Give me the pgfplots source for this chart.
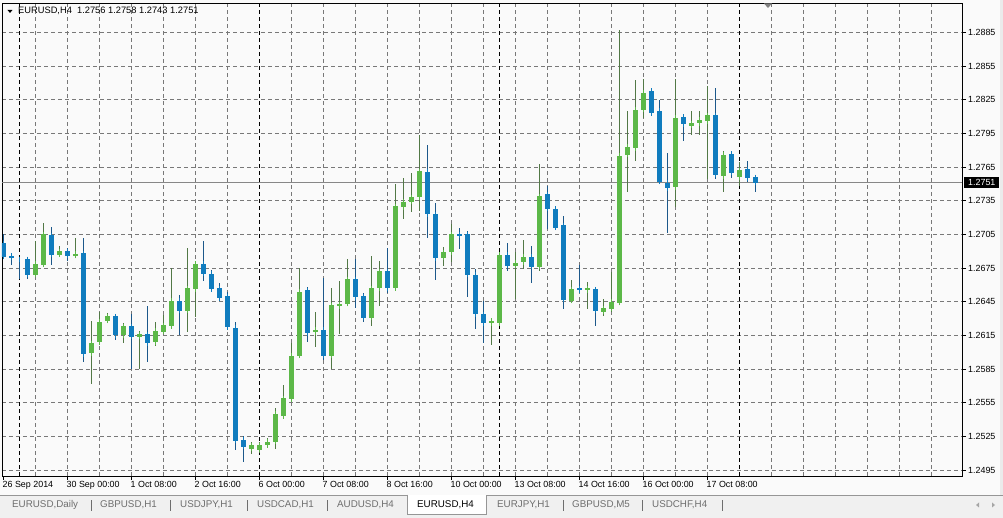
\documentclass[border=0pt]{standalone}
\usepackage{fontspec}
\setmainfont{Liberation Sans}
\usepackage{pgfplots}
\pgfplotsset{compat=1.18}
\usepackage{pgfplotstable}

\definecolor{bullc}{RGB}{92,184,72}
\definecolor{bearc}{RGB}{16,124,190}
\definecolor{bullw}{RGB}{82,120,70}
\definecolor{bearw}{RGB}{28,88,138}
\definecolor{gridc}{RGB}{120,120,120}
\definecolor{bgc}{RGB}{250,250,250}
\definecolor{tabbg}{RGB}{240,240,240}
\definecolor{tabline}{RGB}{150,150,150}
\definecolor{tabtext}{RGB}{110,110,110}
\definecolor{bidc}{RGB}{135,135,135}

\newcommand\lbl{\fontsize{8.9}{10}\selectfont}
\newcommand\hdr{\fontsize{9.3}{10}\selectfont}
\newcommand\tabf{\fontsize{9.8}{11}\selectfont}

\pgfplotstableread{
k o h l c
4 1.2669 1.2699 1.2667 1.2679
5 1.2678 1.2715 1.2677 1.2705
7 1.2687 1.2695 1.2685 1.2690
9 1.2686 1.2702 1.2685 1.2688
11 1.2599 1.2628 1.2572 1.2608
12 1.2609 1.2636 1.2608 1.2627
13 1.2628 1.2635 1.2627 1.2632
15 1.2615 1.2626 1.2608 1.2623
17 1.2614 1.2619 1.2585 1.2616
19 1.2609 1.2627 1.2606 1.2619
20 1.2618 1.2633 1.2617 1.2624
21 1.2623 1.2675 1.2622 1.2646
23 1.2637 1.2693 1.2618 1.2657
24 1.2656 1.2681 1.2631 1.2679
31 1.2514 1.2520 1.2509 1.2517
32 1.2513 1.2520 1.2510 1.2517
33 1.2517 1.2524 1.2515 1.2520
34 1.2520 1.2550 1.2514 1.2545
35 1.2543 1.2571 1.2542 1.2559
36 1.2558 1.2608 1.2557 1.2597
37 1.2597 1.2675 1.2596 1.2654
39 1.2618 1.2636 1.2605 1.2620
41 1.2597 1.2657 1.2585 1.2642
42 1.2641 1.2663 1.2616 1.2643
43 1.2643 1.2683 1.2642 1.2665
46 1.2631 1.2686 1.2623 1.2657
47 1.2657 1.2681 1.2641 1.2672
49 1.2657 1.2750 1.2656 1.2730
50 1.2729 1.2755 1.2719 1.2734
51 1.2734 1.2760 1.2725 1.2738
52 1.2738 1.2794 1.2726 1.2761
55 1.2684 1.2694 1.2677 1.2689
56 1.2689 1.2714 1.2680 1.2705
61 1.2626 1.2630 1.2606 1.2628
62 1.2626 1.2688 1.2625 1.2687
64 1.2677 1.2689 1.2647 1.2680
65 1.2680 1.2700 1.2674 1.2685
67 1.2676 1.2768 1.2672 1.2739
71 1.2646 1.2664 1.2645 1.2656
73 1.2655 1.2663 1.2639 1.2657
75 1.2636 1.2647 1.2632 1.2639
76 1.2639 1.2671 1.2636 1.2645
77 1.2644 1.2887 1.2642 1.2775
78 1.2776 1.2815 1.2743 1.2783
79 1.2782 1.2843 1.2770 1.2816
80 1.2816 1.2843 1.2809 1.2831
84 1.2747 1.2843 1.2729 1.2809
86 1.2802 1.2815 1.2794 1.2804
87 1.2804 1.2815 1.2794 1.2807
88 1.2806 1.2837 1.2754 1.2811
90 1.2757 1.2779 1.2743 1.2776
92 1.2756 1.2769 1.2748 1.2762
}\bulltab

\pgfplotstableread{
k o h l c
0 1.2697 1.2705 1.2683 1.2685
1 1.2686 1.2687 1.2678 1.2684
2 1.2683 1.2685 1.2665 1.2683
3 1.2683 1.2685 1.2665 1.2669
6 1.2704 1.2712 1.2678 1.2687
8 1.2690 1.2693 1.2681 1.2686
10 1.2688 1.2702 1.2591 1.2598
14 1.2632 1.2634 1.2611 1.2615
16 1.2623 1.2634 1.2585 1.2614
18 1.2616 1.2641 1.2591 1.2608
22 1.2646 1.2651 1.2615 1.2637
25 1.2679 1.2699 1.2663 1.2670
26 1.2670 1.2673 1.2654 1.2656
27 1.2657 1.2662 1.2647 1.2648
28 1.2650 1.2654 1.2621 1.2622
29 1.2622 1.2627 1.2513 1.2521
30 1.2522 1.2525 1.2502 1.2516
38 1.2655 1.2658 1.2609 1.2617
40 1.2620 1.2666 1.2593 1.2597
44 1.2665 1.2683 1.2639 1.2649
45 1.2650 1.2653 1.2627 1.2631
48 1.2672 1.2693 1.2653 1.2657
53 1.2761 1.2785 1.2702 1.2723
54 1.2723 1.2733 1.2664 1.2684
57 1.2705 1.2711 1.2692 1.2704
58 1.2705 1.2708 1.2649 1.2669
59 1.2669 1.2674 1.2621 1.2634
60 1.2634 1.2646 1.2608 1.2626
63 1.2687 1.2697 1.2672 1.2677
66 1.2685 1.2695 1.2662 1.2676
68 1.2741 1.2748 1.2710 1.2728
69 1.2728 1.2730 1.2709 1.2711
70 1.2713 1.2721 1.2639 1.2647
72 1.2657 1.2678 1.2653 1.2655
74 1.2656 1.2657 1.2623 1.2637
81 1.2833 1.2834 1.2812 1.2813
82 1.2815 1.2825 1.2751 1.2752
83 1.2751 1.2778 1.2706 1.2746
85 1.2810 1.2811 1.2788 1.2803
89 1.2811 1.2835 1.2754 1.2758
91 1.2777 1.2778 1.2755 1.2760
93 1.2763 1.2770 1.2752 1.2755
94 1.2756 1.2758 1.2743 1.2751
}\beartab

\begin{document}
\begin{tikzpicture}[x=1pt,y=1pt]
\fill[bgc] (0,0) rectangle (1003,518);
\useasboundingbox (0,0) rectangle (1003,518);
% right strip
\fill[black!8] (1000,23) rectangle (1003,518);
% tab bar
\fill[tabbg] (0,0) rectangle (1003,23);
\draw[tabline, line width=0.8pt] (0,23) -- (407,23);
\draw[tabline, line width=0.8pt] (486,23) -- (1003,23);
\filldraw[fill=white, draw=tabline, line width=0.8pt] (407,23.4) -- (407,4) -- (486,4) -- (486,23.4);
\foreach \xx/\tt in {12/{EURUSD,Daily}, 100/{GBPUSD,H1}, 180/{USDJPY,H1}, 257/{USDCAD,H1}, 337/{AUDUSD,H4}, 497/{EURJPY,H1}, 572/{GBPUSD,M5}, 652/{USDCHF,H4}}
  \node[anchor=west, inner sep=0pt, text=tabtext, font=\tabf] at (\xx,13) {\tt};
\node[anchor=west, inner sep=0pt, text=black, font=\tabf] at (417,13) {EURUSD,H4};
\foreach \xx in {91,170,247,327,563,642,722}
  \draw[tabtext, line width=0.6pt] (\xx,7) -- (\xx,18);
\fill[black!35] (976,13) -- (979,15.5) -- (979,10.5) -- cycle;
\fill[black!35] (995,13) -- (992,15.5) -- (992,10.5) -- cycle;

\begin{axis}[
  at={(2pt,42pt)}, anchor=south west,
  scale only axis, width=960pt, height=473pt,
  xmin=-0.1875, xmax=119.8125,
  ymin=1.24897, ymax=1.29111,
  clip mode=individual,
  axis background/.style={fill=bgc},
  axis line style={black, line width=0.8pt},
  tick align=outside, major tick length=4pt, minor tick length=0pt,
  tick style={black, line width=0.6pt},
  xtick pos=bottom, ytick pos=right, yticklabel pos=right,
  xtick={0,8,16,24,32,40,48,56,64,72,80,88},
  xticklabels={26 Sep 2014,30 Sep 00:00,1 Oct 08:00,2 Oct 16:00,6 Oct 00:00,7 Oct 08:00,8 Oct 16:00,10 Oct 00:00,13 Oct 08:00,14 Oct 16:00,16 Oct 00:00,17 Oct 08:00},
  minor xtick={4,8,...,116},
  ytick={1.2495,1.2525,1.2555,1.2585,1.2615,1.2645,1.2675,1.2705,1.2735,1.2765,1.2795,1.2825,1.2855,1.2885},
  yticklabels={1.2495,1.2525,1.2555,1.2585,1.2615,1.2645,1.2675,1.2705,1.2735,1.2765,1.2795,1.2825,1.2855,1.2885},
  xticklabel style={anchor=north west, font=\lbl, inner sep=0pt, xshift=-1pt, yshift=-1pt},
  yticklabel style={anchor=west, font=\lbl, inner sep=0pt, xshift=2pt},
  xmajorgrids=false, xminorgrids=true, ymajorgrids=true,
  major grid style={gridc, line width=0.6pt, dash pattern=on 4pt off 3pt},
  minor grid style={gridc, line width=0.6pt, dash pattern=on 4pt off 3pt},
  extra x ticks={2,32,62,92},
  extra x tick labels={},
  extra x tick style={grid=major, major tick length=0pt,
    major grid style={black, line width=0.6pt, dash pattern=on 4pt off 3pt}},
]
% bid line
\addplot[bidc, line width=0.8pt, forget plot] coordinates {(-0.1875,1.2751) (119.8125,1.2751)};
% wicks
\addplot[draw=none, mark=none, forget plot,
  error bars/.cd, y dir=both, y explicit, error mark=none,
  error bar style={draw=bullw, line width=1pt, solid}]
  table[x=k, y expr={(\thisrow{h}+\thisrow{l})/2}, y error expr={(\thisrow{h}-\thisrow{l})/2}] {\bulltab};
\addplot[draw=none, mark=none, forget plot,
  error bars/.cd, y dir=both, y explicit, error mark=none,
  error bar style={draw=bearw, line width=1pt, solid}]
  table[x=k, y expr={(\thisrow{h}+\thisrow{l})/2}, y error expr={(\thisrow{h}-\thisrow{l})/2}] {\beartab};
% bodies
\addplot[draw=none, mark=none, forget plot,
  error bars/.cd, y dir=both, y explicit, error mark=-,
  error mark options={draw=bullc, line width=1pt, mark size=2.5pt, solid},
  error bar style={draw=bullc, line width=5pt, solid}]
  table[x=k, y expr={(\thisrow{o}+\thisrow{c})/2}, y error expr={abs(\thisrow{c}-\thisrow{o})/2}] {\bulltab};
\addplot[draw=none, mark=none, forget plot,
  error bars/.cd, y dir=both, y explicit, error mark=-,
  error mark options={draw=bearc, line width=1pt, mark size=2.5pt, solid},
  error bar style={draw=bearc, line width=5pt, solid}]
  table[x=k, y expr={(\thisrow{o}+\thisrow{c})/2}, y error expr={abs(\thisrow{c}-\thisrow{o})/2}] {\beartab};
% current price box
\node[anchor=west, fill=black, text=white, font=\lbl, inner xsep=4pt, inner ysep=2pt, text height=6.4pt, text depth=0pt] at (axis cs:119.8125,1.2751) [xshift=2pt] {1.2751};
% header
\fill[black] ([xshift=5.5pt,yshift=-7pt]rel axis cs:0,1) -- ([xshift=10.5pt,yshift=-7pt]rel axis cs:0,1) -- ([xshift=8pt,yshift=-10pt]rel axis cs:0,1) -- cycle;
\node[anchor=west, inner sep=0pt, font=\hdr] at ([xshift=16pt,yshift=-8pt]rel axis cs:0,1) {EURUSD,H4\ \ 1.2756 1.2758 1.2743 1.2751};
% chart shift marker
\fill[black!50] ([xshift=762pt,yshift=-0.5pt]rel axis cs:0,1) -- ([xshift=770pt,yshift=-0.5pt]rel axis cs:0,1) -- ([xshift=766pt,yshift=-5pt]rel axis cs:0,1) -- cycle;
\end{axis}
\end{tikzpicture}
\end{document}
